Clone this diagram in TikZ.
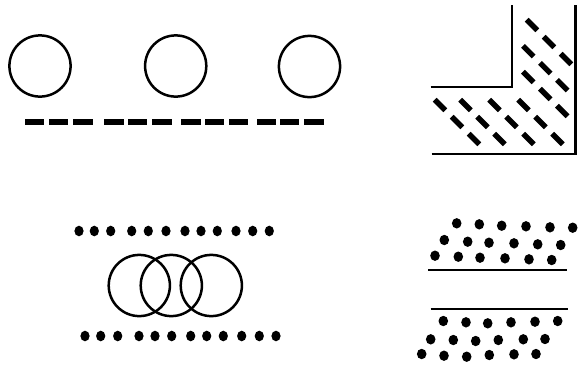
\documentclass[tikz,border=0pt]{standalone}
\begin{document}
\begin{tikzpicture}[x=1pt,y=-1pt,
  ring/.style={draw=black,line width=2.5pt},
  rule/.style={draw=black,line width=2.5pt},
  dashbar/.style={fill=black},
  hatchseg/.style={draw=black,line width=5.4pt},
  dotA/.style={fill=black},
]
\useasboundingbox (0,0) rectangle (578,365);
% top-left circles
\foreach \cx/\cy in {40/66,175.7/66,309.5/66.5}
  \draw[ring] (\cx,\cy) circle[radius=30.6];
% dashes
\foreach \a/\b in {25/44,48.7/68,73.3/92.7,104.3/124,127.7/147,152.3/171.7,181/200.7,204.7/224,229.3/248.3,256.7/276,280/299.3,304.3/324.3}
  \fill[dashbar] (\a,119) rectangle (\b,125.2);
% top-right L frame
\draw[rule] (430.7,87) -- (512,87) -- (512,5);
\draw[rule] (431.7,154) -- (575.5,154) -- (575.5,5);
% hatch segments
\foreach \sx/\sy in {440/105,465.5/105,494.5/105,523.5/105,532/25,528.3/51.2,528.3/77}
  \foreach \k in {0,1,2}
    \draw[hatchseg] ({\sx+17*\k-5.3},{\sy+17*\k-5.3}) -- ({\sx+17*\k+5.3},{\sy+17*\k+5.3});
% bottom-left dots
\foreach \x in {79,94.3,110.7,131.7,148.3,166,185,201,217.3,236,252.7,269.3}
  \fill[dotA] (\x,231) ellipse[x radius=4.6,y radius=5.3];
\foreach \x in {85,100.7,117.7,139,155,171.7,190.7,206.7,223.3,241.7,259.3,276}
  \fill[dotA] (\x,336) ellipse[x radius=4.6,y radius=5.3];
% overlapping circles
\foreach \cx in {139.3,171.3,211.3}
  \draw[ring] (\cx,285.5) circle[radius=30.6];
% bottom-right lines
\draw[rule] (428.3,270) -- (566.7,270);
\draw[rule] (430.7,309) -- (568.3,309);
% bottom-right dots
\foreach \x/\y in {456.7/223.3,479.3/224.3,501.7/225.7,526/226.3,550/227.3,572.7/227.7,
  444.3/240,467.7/241.7,489/242.7,514/243.3,537.7/244.3,560.7/245,
  435/255.7,458.3/256.7,480/257.7,505/258.3,529/259.3,551.7/260,
  443.3/321,466/322.3,487.7/323.3,511/322.3,535/321.7,557.7/321,
  430.7/339.3,453.3/340,475.7/341,498.3/340,523.3/339.3,545/339,
  421.7/354,444/355.7,466.7/356.7,489.3/355,514/354.3,536/354}
  \fill[dotA] (\x,\y) ellipse[x radius=4.8,y radius=5.2];
\end{tikzpicture}
\end{document}
